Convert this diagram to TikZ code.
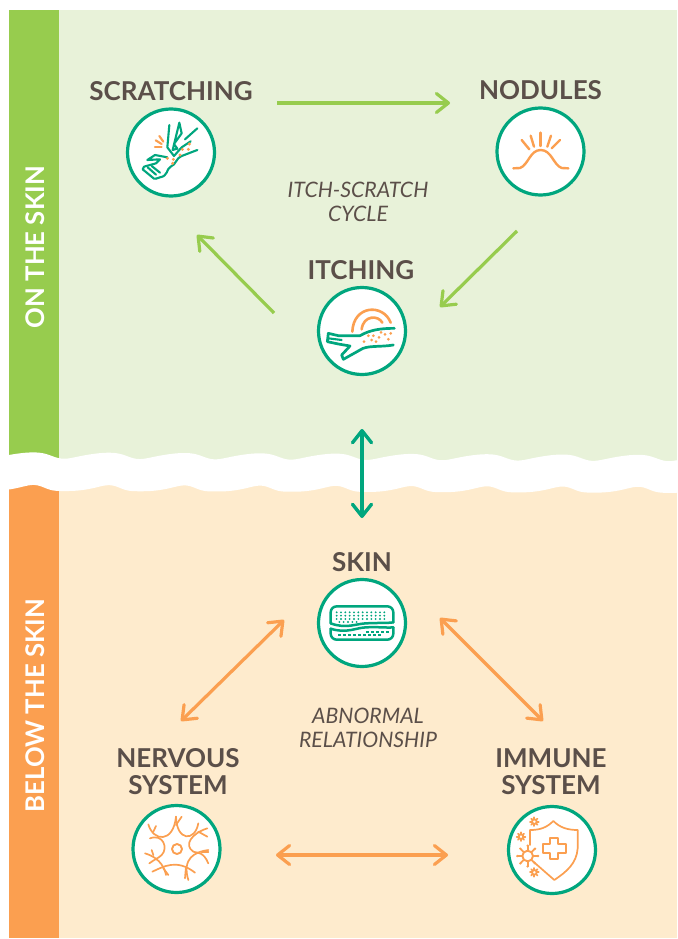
\documentclass[tikz,border=0pt]{standalone}
\usepackage{fontspec}
\setmainfont{Lato}
\usetikzlibrary{arrows.meta}
\definecolor{greenlight}{HTML}{E8F2D9}
\definecolor{greenstrip}{HTML}{97CC4E}
\definecolor{orangelight}{HTML}{FEEBCD}
\definecolor{orangestrip}{HTML}{FB9F50}
\definecolor{teal}{HTML}{00A67E}
\definecolor{inktext}{HTML}{5B4F49}
\tikzset{
  iconring/.style={circle,draw=teal,fill=white,line width=3.2pt,minimum size=87pt,inner sep=0pt},
  heading/.style={font=\fontsize{26}{27}\selectfont\bfseries,text=inktext,align=center,inner sep=0pt},
  note/.style={font=\fontsize{21.3}{24}\selectfont\itshape,text=inktext,align=center,inner sep=0pt},
  sidelabel/.style={font=\fontsize{25.7}{27}\selectfont\bfseries,text=white,rotate=90,inner sep=0pt},
  head/.tip={Straight Barb[length=12pt,width=19pt,line cap=round,round]},
  greenarrow/.style={draw=greenstrip,line width=3.2pt,-{head}},
  orangearrow/.style={draw=orangestrip,line width=3.2pt,{head}-{head}},
  tealarrow/.style={draw=teal,line width=3.4pt,{head}-{head}},
  tline/.style={draw=teal,line width=2.1pt,line cap=round,line join=round},
  oline/.style={draw=orangestrip,line width=2.1pt,line cap=round,line join=round},
  othin/.style={draw=orangestrip,line width=1.7pt,line cap=round,line join=round},
}
\begin{document}
\begin{tikzpicture}[x=1pt,y=-1pt,
  declare function={
    phs(\x)=4.762*(\x-26)-18;
    wrp(\t)=\t-18*cos(\t);
    upy(\x)=455+0.004*\x-3.1*(cos(wrp(phs(\x)))-0.12*cos(2*wrp(phs(\x))));
    loy(\x)=488.5+0.003*\x-3*(cos(wrp(phs(\x)))+0.22*cos(2*wrp(phs(\x))));
  }]
\useasboundingbox (0,0) rectangle (677,939);
\fill[white] (0,0) rectangle (677,939);
% panels
\fill[greenlight] (59,10) rectangle (677,475);
\fill[greenstrip] (9,10) rectangle (59,475);
\fill[orangelight] (59,475) rectangle (677,938);
\fill[orangestrip] (9,475) rectangle (59,938);
\fill[white] plot[domain=0:677,samples=340] (\x,{upy(\x)}) -- plot[domain=677:0,samples=340] (\x,{loy(\x)}) -- cycle;
% side labels
\node[sidelabel] (onskin) at (35,247) {ON THE SKIN};
\node[sidelabel] (belowskin) at (35,705.5) {BELOW THE SKIN};
% headings
\node[heading] (scratching) at (171,91) {SCRATCHING};
\node[heading] (nodules) at (540.5,90) {NODULES};
\node[heading] (itching) at (361,270) {ITCHING};
\node[heading] (skin) at (362,562) {SKIN};
\node[heading] (nervous) at (178,772) {NERVOUS\\SYSTEM};
\node[heading] (immune) at (551,772) {IMMUNE\\SYSTEM};
\node[note] (cycle) at (358,202) {ITCH-SCRATCH\\CYCLE};
\node[note] (abnormal) at (368,728) {ABNORMAL\\RELATIONSHIP};
% rings
\node[iconring] (scratchicon) at (171,152.5) {};
\node[iconring] (noduleicon) at (540.5,151.5) {};
\node[iconring] (itchicon) at (362,331) {};
\node[iconring] (skinicon) at (362,623) {};
\node[iconring] (nerveicon) at (176.5,849) {};
\node[iconring] (immuneicon) at (552,850) {};
% connector ends
\coordinate (sn1) at (277,103); \coordinate (sn2) at (450,103);
\coordinate (ni1) at (517,231); \coordinate (ni2) at (440,307);
\coordinate (is1) at (274,313); \coordinate (is2) at (197,235);
\coordinate (tb1) at (362,429); \coordinate (tb2) at (362,518);
\coordinate (sk1) at (284,620); \coordinate (sk2) at (181,721);
\coordinate (sm1) at (440,618); \coordinate (sm2) at (543,721);
\coordinate (nm1) at (276,855); \coordinate (nm2) at (448,855);
\draw[greenarrow] (sn1) -- (sn2);
\draw[greenarrow] (ni1) -- (ni2);
\draw[greenarrow] (is1) -- (is2);
\draw[tealarrow] (tb1) -- (tb2);
\draw[orangearrow] (sk1) -- (sk2);
\draw[orangearrow] (sm1) -- (sm2);
\draw[orangearrow] (nm1) -- (nm2);
% scratching icon
\begin{scope}[shift={(80,70)},scale=1/3]
  \draw[tline] (352,240) -- (305,258) .. controls (285,268) and (290,282) .. (272,290) .. controls (258,298) and (265,318) .. (240,322) -- (228,326);
  \draw[tline] (262,262) -- (225,255) -- (202,270) -- (240,268) -- (228,280) -- (192,290) -- (188,298) -- (222,326) -- (228,326);
  \draw[tline] (203,292) -- (228,314);
  \draw[tline] (215,288) -- (240,308);
  \draw[tline] (352,175) -- (315,208);
  \draw[tline] (268,165) -- (262,232) -- (282,258) -- (305,232) -- (332,214);
  \draw[tline] (298,158) -- (305,190) -- (282,222) -- (292,236) -- (278,240) -- cycle;
  \draw[oline] (227,211) -- (245,222);
  \draw[oline] (225,232) -- (245,232);
  \draw[oline] (238,198) -- (250,215);
  \foreach \p in {(262,265),(280,268),(300,255),(307,238),(325,238),(328,222),(278,280)}
    \fill[orangestrip] \p circle (5);
\end{scope}
% nodules icon
\begin{scope}[shift={(470,70)},scale=1/3]
  \draw[oline,line width=2.4pt] (130,295) -- (150,294) .. controls (175,285) and (180,240) .. (212,240) .. controls (245,240) and (250,285) .. (275,294) -- (295,295);
  \draw[oline,line width=2.4pt] (155,210) -- (178,238);
  \draw[oline,line width=2.4pt] (182,197) -- (192,230);
  \draw[oline,line width=2.4pt] (212,188) -- (212,228);
  \draw[oline,line width=2.4pt] (243,197) -- (232,230);
  \draw[oline,line width=2.4pt] (270,210) -- (245,235);
\end{scope}
% itching icon
\begin{scope}[shift={(300,270)},scale=1/3]
  \draw[oline,line width=2.6pt] (157,185) .. controls (160,105) and (250,100) .. (272,158);
  \draw[oline,line width=2.6pt] (185,178) .. controls (190,135) and (235,135) .. (247,158);
  \draw[tline,line width=2.7pt] (283,175) .. controls (240,175) and (210,180) .. (180,197) -- (115,197) -- (85,190) -- (82,215) -- (115,222) -- (150,228) -- (125,255) -- (130,268) -- (180,240) .. controls (200,225) and (240,232) .. (280,225);
  \draw[tline] (85,205) -- (125,210);
  \foreach \p in {(192,215),(205,197),(215,210),(220,197),(228,215),(237,202),(243,187),(255,193),(265,208),(272,190)}
    \fill[orangestrip] \p circle (4.5);
\end{scope}
% skin icon
\begin{scope}[shift={(300,570)},scale=1/3]
  \draw[tline,line width=2.5pt,rounded corners=6pt] (92,160) -- (92,109) -- (280,109) -- (280,157);
  \draw[tline,line width=2.5pt] (92,160) .. controls (140,178) and (170,160) .. (200,160) .. controls (230,158) and (260,160) .. (280,157);
  \draw[tline,line width=2.5pt,rounded corners=6pt] (92,176) -- (92,209) -- (280,209) -- (280,172);
  \draw[tline,line width=2.5pt] (92,176) .. controls (140,192) and (170,172) .. (200,172) .. controls (230,170) and (260,174) .. (280,172);
  \foreach \y in {127,137,147}
    \foreach \x in {110,123,...,265}
      \fill[teal] (\x,\y) circle (3.2);
  \foreach \x in {118,131,...,170}
    \fill[teal] (\x,156) circle (3.2);
  \foreach \x in {198,213,...,265}
    \draw[teal,line width=1.8pt] (\x,185) -- ++(9,0);
  \foreach \x in {115,130,...,245}
    \draw[teal,line width=1.8pt] (\x,195) -- ++(9,0);
\end{scope}
% nervous icon
\begin{scope}[shift={(120,795)},scale=1/3]
  \draw[othin,line width=1.9pt] (171,162) circle (15);
  \draw[othin] (85,88) .. controls (100,140) and (160,145) .. (168,65);
  \draw[othin] (168,65) .. controls (170,140) and (225,140) .. (235,85);
  \draw[othin] (262,100) .. controls (215,115) and (190,150) .. (220,170) .. controls (235,175) and (250,170) .. (265,205);
  \draw[othin] (265,165) .. controls (225,170) and (185,190) .. (205,255);
  \draw[othin] (97,230) .. controls (130,215) and (170,190) .. (225,233);
  \draw[othin] (138,240) .. controls (135,225) and (125,190) .. (75,175);
  \draw[othin] (90,130) .. controls (130,115) and (145,160) .. (125,180) .. controls (115,190) and (105,192) .. (88,205);
  \draw[othin] (168,90) -- (185,65);
  \draw[othin] (100,110) -- (108,93);
  \draw[othin] (235,110) -- (262,125);
  \draw[othin] (245,172) -- (265,172);
  \draw[othin] (100,180) -- (95,165);
  \draw[othin] (130,220) -- (145,240);
  \draw[othin] (198,215) -- (195,250);
\end{scope}
% immune icon
\begin{scope}[shift={(495,795)},scale=1/3]
  \draw[othin] (105,150) -- (105,105) .. controls (135,105) and (155,98) .. (175,78) .. controls (195,98) and (218,105) .. (248,105) -- (248,160) .. controls (245,205) and (215,230) .. (178,255) -- (115,200);
  \draw[othin] (165,130) -- (190,130) -- (190,148) -- (213,148) -- (213,175) -- (190,175) -- (190,193) -- (165,193) -- (165,175) -- (143,175) -- (143,148) -- (165,148) -- cycle;
  \draw[oline,line width=1.9pt] (98,183) circle (16);
  \foreach \a in {0,45,...,315}{
    \draw[othin] (98,183) ++(\a:16) -- ++(\a:14);
    \fill[orangestrip] (98,183) ++(\a:31) circle (4);
  }
  \foreach \c in {(118,80),(78,125),(118,232)}{
    \draw[oline,line width=1.9pt] \c circle (7);
    \foreach \a in {0,45,...,315}
      \draw[othin] \c ++(\a:8) -- ++(\a:5);
  }
\end{scope}
\end{tikzpicture}
\end{document}
